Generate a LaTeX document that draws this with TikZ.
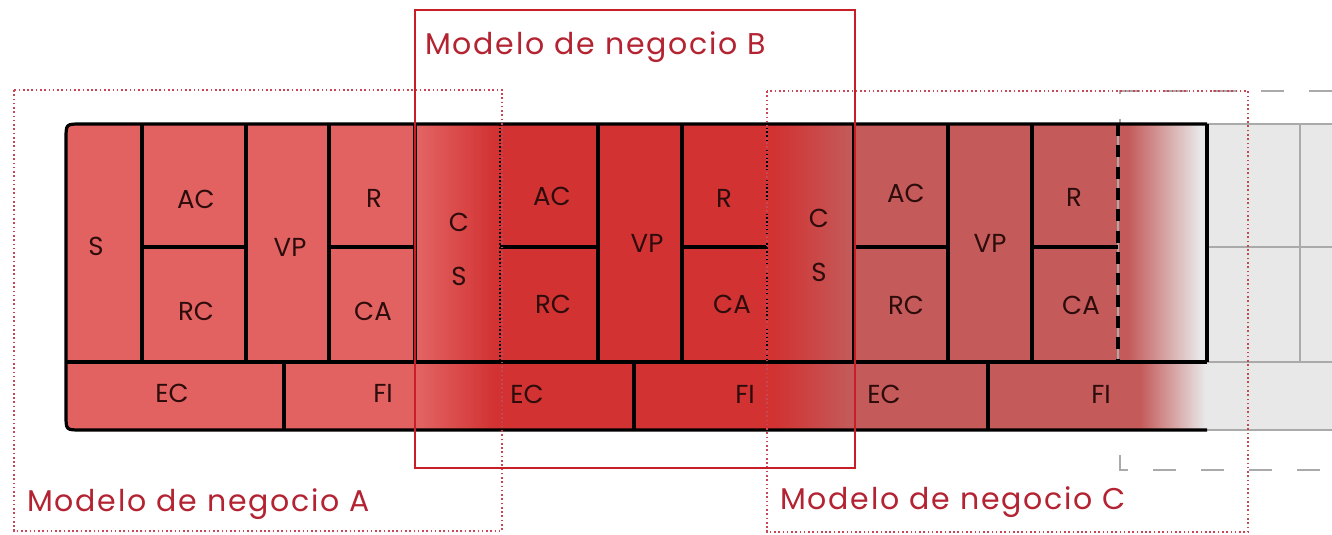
\documentclass[tikz,border=0pt]{standalone}
\usepackage{fontspec}
\setmainfont{Poppins}
\newfontfamily\titlefont[LetterSpace=6]{Poppins}
\definecolor{cA}{RGB}{226,98,98}
\definecolor{cB}{RGB}{210,50,50}
\definecolor{cC}{RGB}{196,90,90}
\definecolor{cG}{RGB}{232,232,232}
\definecolor{gline}{RGB}{170,170,170}
\definecolor{lbl}{RGB}{180,35,50}
\definecolor{txt}{RGB}{45,12,12}
\definecolor{dotc}{RGB}{200,70,85}
\definecolor{boxB}{RGB}{200,30,40}
\begin{document}
\begin{tikzpicture}[x=0.75pt,y=-0.75pt,
  cell/.style={font=\fontsize{19.5}{40.5}\selectfont, text=txt, inner sep=0pt, align=center},
  title/.style={font=\titlefont\fontsize{22.5}{23}\selectfont, text=lbl, anchor=base west, inner sep=0pt},
  bline/.style={line width=2.4pt, black},
  bdot/.style={line width=2.2pt, black, dash pattern=on 1.2pt off 1.6pt},
  bdash/.style={line width=2.4pt, black, dash pattern=on 9pt off 7pt},
  gl/.style={line width=1.1pt, gline},
  gdash/.style={line width=1.5pt, gline, dash pattern=on 17pt off 19pt},
  dotbox/.style={dotc, line width=1.4pt, dash pattern=on 1.2pt off 2pt},
  redbox/.style={boxB, line width=1.6pt}
]
\useasboundingbox (0,0) rectangle (1332,535);
\fill[white] (0,0) rectangle (1332,535);

% gray dashed frame (model D, partly hidden)
\coordinate (dTL) at (1120,91);
\coordinate (dTR) at (1332,91);
\coordinate (dBL) at (1120,470);
\coordinate (dBR) at (1332,470);
\draw[gdash] (dTR) -- (dTL) -- (dBL) -- (dBR);

% body fills
\begin{scope}
  \clip (1332,124) -- (81,124) .. controls (66,124) .. (66,139) -- (66,415) .. controls (66,430) .. (81,430) -- (1332,430) -- cycle;
  \fill[cA] (60,120) rectangle (420,435);
  \shade[left color=cA, right color=cB] (420,120) rectangle (495,435);
  \fill[cB] (495,120) rectangle (775,435);
  \shade[left color=cB, right color=cC] (775,120) rectangle (850,435);
  \fill[cC] (850,120) rectangle (1128,362);
  \shade[left color=cC, right color=cG] (1128,120) rectangle (1200,362);
  \fill[cG] (1200,120) rectangle (1340,362);
  \fill[cC] (850,362) rectangle (1140,435);
  \shade[left color=cC, right color=cG] (1140,362) rectangle (1205,435);
  \fill[cG] (1205,362) rectangle (1340,435);
\end{scope}

% gray grid at the right
\draw[gl] (1207,124) -- (1332,124);
\draw[gl] (1207,247) -- (1332,247);
\draw[gl] (1207,362) -- (1332,362);
\draw[gl] (1207,430) -- (1332,430);
\draw[gl] (1300,124) -- (1300,362);
\draw[gl] (1118,124) -- (1118,362);

% black lines
\draw[bline] (1207,124) -- (81,124) .. controls (66,124) .. (66,139) -- (66,415) .. controls (66,430) .. (81,430) -- (1207,430);
\draw[bline] (66,362) -- (1207,362);
\draw[bline] (1207,124) -- (1207,362);
\foreach \x in {142,246,329,415,598,682,854,948,1032}
  \draw[bline] (\x,124) -- (\x,362);
\draw[bdot] (500,124) -- (500,362);
\draw[bdot] (767,124) -- (767,362);
\draw[bdash] (1118,124) -- (1118,362);
\draw[bline] (142,247) -- (246,247);
\draw[bline] (329,247) -- (415,247);
\draw[bline] (500,247) -- (598,247);
\draw[bline] (682,247) -- (767,247);
\draw[bline] (854,247) -- (948,247);
\draw[bline] (1032,247) -- (1118,247);
\foreach \x in {284,634,988}
  \draw[bline] (\x,362) -- (\x,430);

% cell labels
\node[cell] (s)   at (96,246)  {S};
\node[cell] (ac1) at (196,199) {AC};
\node[cell] (rc1) at (196,311) {RC};
\node[cell] (vp1) at (290,247) {VP};
\node[cell] (r1)  at (374,198) {R};
\node[cell] (ca1) at (373,311) {CA};
\node[cell] (cs1) at (459,249) {C\\S};
\node[cell] (ac2) at (552,196) {AC};
\node[cell] (rc2) at (553,304) {RC};
\node[cell] (vp2) at (647,243) {VP};
\node[cell] (r2)  at (724,198) {R};
\node[cell] (ca2) at (732,304) {CA};
\node[cell] (cs2) at (819,245) {C\\S};
\node[cell] (ac3) at (906,193) {AC};
\node[cell] (rc3) at (906,305) {RC};
\node[cell] (vp3) at (990,243) {VP};
\node[cell] (r3)  at (1074,197) {R};
\node[cell] (ca3) at (1081,305) {CA};
\node[cell] (ec1) at (172,393) {EC};
\node[cell] (fi1) at (383,393) {FI};
\node[cell] (ec2) at (527,394) {EC};
\node[cell] (fi2) at (745,394) {FI};
\node[cell] (ec3) at (884,394) {EC};
\node[cell] (fi3) at (1101,394) {FI};

% model frames
\draw[dotbox] (14,90) rectangle (502,531);
\draw[dotbox] (767,91) rectangle (1248,532);
\draw[redbox] (415,10) rectangle (855,468);

% titles
\node[title] (tA) at (27,511) {Modelo de negocio A};
\node[title] (tB) at (425,55) {Modelo de negocio B};
\node[title] (tC) at (780,509) {Modelo de negocio C};
\end{tikzpicture}
\end{document}
